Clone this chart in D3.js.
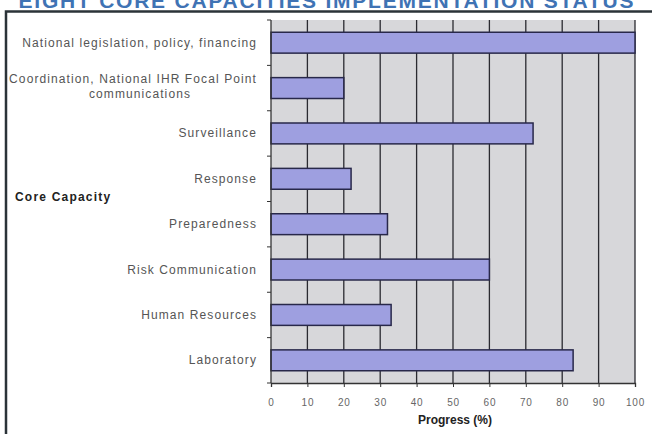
<!DOCTYPE html>
<html><head><meta charset="utf-8">
<script src="https://cdn.jsdelivr.net/npm/d3@7"></script>
<style>body{margin:0;background:#fff}svg{display:block}</style>
</head><body>
<svg id="c" width="652" height="434"></svg>
<script>
const categories = [
  ["National legislation, policy, financing"],
  ["Coordination, National IHR Focal Point", "communications"],
  ["Surveillance"],
  ["Response"],
  ["Preparedness"],
  ["Risk Communication"],
  ["Human Resources"],
  ["Laboratory"]
];
const values = [100, 20, 72, 22, 32, 60, 33, 83];
const xTicks = [0, 10, 20, 30, 40, 50, 60, 70, 80, 90, 100];
const title = "EIGHT CORE CAPACITIES IMPLEMENTATION STATUS";
const xTitle = "Progress (%)";
const yTitle = "Core Capacity";

const FONT = "Liberation Sans, Arial, sans-serif";
const svg = d3.select("#c");
const m = {l: 271, r: 635, t: 20, b: 383};
const x = d3.scaleLinear().domain([0, 100]).range([m.l, m.r]);
const y = d3.scaleBand().domain(d3.range(categories.length)).range([m.t, m.b]).paddingInner(0.54).paddingOuter(0.27);
const yb = d3.scaleBand().domain(d3.range(categories.length)).range([m.t, m.b]);

// title (cut off at top, as in the reference)
svg.append("text").attr("x", 326).attr("y", 8).attr("text-anchor", "middle")
  .attr("font-family", FONT).attr("font-weight", "bold")
  .attr("font-size", 21).attr("fill", "#3f73b4").attr("textLength", 615).text(title);

// frame
svg.append("path").attr("d", `M6,434 V11.5 H652`).attr("fill", "none").attr("stroke", "#2b3338").attr("stroke-width", 2.5);

// plot background
svg.append("rect").attr("x", m.l).attr("y", m.t).attr("width", m.r - m.l).attr("height", m.b - m.t).attr("fill", "#d7d7da");

// gridlines
svg.append("g").selectAll("line").data(xTicks.slice(1)).join("line")
  .attr("x1", d => x(d)).attr("x2", d => x(d)).attr("y1", m.t).attr("y2", m.b)
  .attr("stroke", "#2a2a30").attr("stroke-width", 1.3);

// bars
svg.append("g").selectAll("rect").data(values).join("rect")
  .attr("x", x(0)).attr("y", (d, i) => y(i)).attr("width", d => x(d) - x(0)).attr("height", y.bandwidth())
  .attr("fill", "#9e9fe0").attr("stroke", "#28284a").attr("stroke-width", 1.5);

// x axis
const xa = svg.append("g").attr("transform", `translate(0,${m.b})`)
  .call(d3.axisBottom(x).tickValues(xTicks).tickSize(4).tickPadding(12).tickFormat(d3.format("d")));
xa.select(".domain").attr("stroke", "#333").attr("stroke-width", 1.3);
xa.selectAll(".tick line").attr("stroke", "#333");
xa.selectAll("text").attr("font-family", FONT).attr("font-size", 10).attr("letter-spacing", 0.8).attr("fill", "#666");

// y axis
svg.append("line").attr("x1", m.l).attr("x2", m.l).attr("y1", m.t).attr("y2", m.b).attr("stroke", "#333").attr("stroke-width", 1.3);
svg.append("g").selectAll("line").data(d3.range(categories.length + 1)).join("line")
  .attr("x1", m.l - 4).attr("x2", m.l).attr("y1", i => m.t + i * yb.step()).attr("y2", i => m.t + i * yb.step())
  .attr("stroke", "#333");

const lab = svg.append("g").attr("font-family", FONT).attr("font-size", 12).attr("letter-spacing", 1.1).attr("fill", "#555");
categories.forEach((lines, i) => {
  const cy = yb(i) + yb.bandwidth() / 2;
  if (lines.length === 1) {
    lab.append("text").attr("x", 257).attr("y", cy + 4).attr("text-anchor", "end").text(lines[0]);
  } else {
    lab.append("text").attr("x", 257).attr("y", cy - 5).attr("text-anchor", "end").text(lines[0]);
    lab.append("text").attr("x", 140).attr("y", cy + 10).attr("text-anchor", "middle").text(lines[1]);
  }
});

svg.append("text").attr("x", 15).attr("y", 201).attr("font-family", FONT).attr("letter-spacing", 1.2)
  .attr("font-weight", "bold").attr("font-size", 12).attr("fill", "#222").text(yTitle);
svg.append("text").attr("x", 455).attr("y", 424).attr("text-anchor", "middle").attr("font-family", FONT)
  .attr("font-weight", "bold").attr("font-size", 12).attr("fill", "#222").text(xTitle);
</script>
</body></html>
